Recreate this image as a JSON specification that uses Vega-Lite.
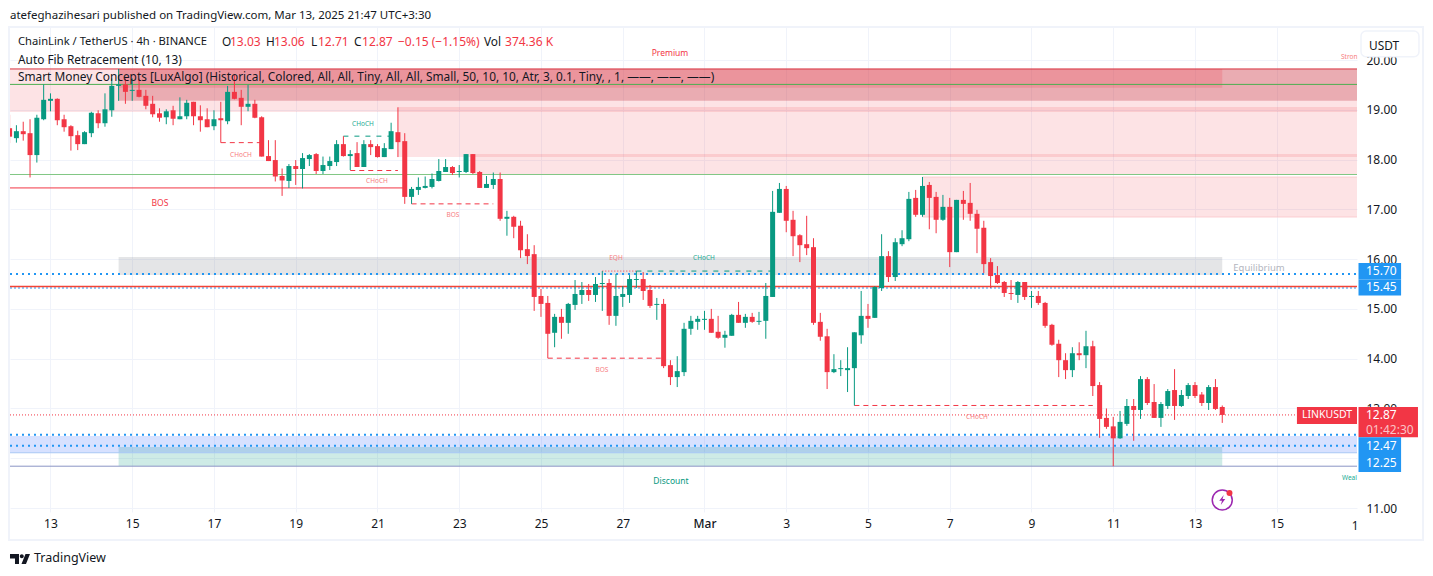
{
"$schema":"https://vega.github.io/schema/vega-lite/v6.json",
"autosize":{"type":"none"},
"padding":{"left":10,"top":27,"right":76,"bottom":64},
"width":1347,"height":485,
"background":"white",
"view":{"stroke":null},
"config":{"font":"Noto Sans","text":{"font":"Noto Sans"}},
"datasets":{
"candles":[
{"t":"2025-02-12T00:00","o":18.63,"h":18.90,"l":18.33,"c":18.46},
{"t":"2025-02-12T04:00","o":18.43,"h":18.69,"l":18.34,"c":18.57},
{"t":"2025-02-12T08:00","o":18.57,"h":18.76,"l":18.38,"c":18.51},
{"t":"2025-02-12T12:00","o":18.53,"h":18.81,"l":17.64,"c":18.09},
{"t":"2025-02-12T16:00","o":18.09,"h":18.90,"l":17.94,"c":18.84},
{"t":"2025-02-12T20:00","o":18.81,"h":19.51,"l":18.79,"c":19.20},
{"t":"2025-02-13T00:00","o":19.18,"h":19.33,"l":18.97,"c":19.22},
{"t":"2025-02-13T04:00","o":19.22,"h":19.23,"l":18.69,"c":18.79},
{"t":"2025-02-13T08:00","o":18.81,"h":18.90,"l":18.56,"c":18.65},
{"t":"2025-02-13T12:00","o":18.67,"h":18.69,"l":18.18,"c":18.47},
{"t":"2025-02-13T16:00","o":18.49,"h":18.58,"l":18.19,"c":18.31},
{"t":"2025-02-13T20:00","o":18.31,"h":18.57,"l":18.31,"c":18.55},
{"t":"2025-02-14T00:00","o":18.53,"h":18.96,"l":18.45,"c":18.94},
{"t":"2025-02-14T04:00","o":18.93,"h":18.99,"l":18.63,"c":18.73},
{"t":"2025-02-14T08:00","o":18.73,"h":19.33,"l":18.66,"c":19.01},
{"t":"2025-02-14T12:00","o":18.99,"h":19.63,"l":18.86,"c":19.48},
{"t":"2025-02-14T16:00","o":19.48,"h":19.82,"l":19.18,"c":19.51},
{"t":"2025-02-14T20:00","o":19.51,"h":19.63,"l":19.12,"c":19.36},
{"t":"2025-02-15T00:00","o":19.38,"h":19.63,"l":19.18,"c":19.40},
{"t":"2025-02-15T04:00","o":19.40,"h":19.63,"l":19.25,"c":19.26},
{"t":"2025-02-15T08:00","o":19.28,"h":19.40,"l":19.01,"c":19.08},
{"t":"2025-02-15T12:00","o":19.12,"h":19.28,"l":18.85,"c":18.91},
{"t":"2025-02-15T16:00","o":18.93,"h":19.03,"l":18.76,"c":18.84},
{"t":"2025-02-15T20:00","o":18.85,"h":19.01,"l":18.71,"c":18.97},
{"t":"2025-02-16T00:00","o":18.99,"h":19.08,"l":18.69,"c":18.82},
{"t":"2025-02-16T04:00","o":18.81,"h":19.25,"l":18.81,"c":18.87},
{"t":"2025-02-16T08:00","o":18.87,"h":19.20,"l":18.81,"c":19.14},
{"t":"2025-02-16T12:00","o":19.16,"h":19.16,"l":18.69,"c":18.87},
{"t":"2025-02-16T16:00","o":18.87,"h":19.09,"l":18.56,"c":18.79},
{"t":"2025-02-16T20:00","o":18.81,"h":19.03,"l":18.65,"c":18.65},
{"t":"2025-02-17T00:00","o":18.67,"h":18.99,"l":18.59,"c":18.81},
{"t":"2025-02-17T04:00","o":18.83,"h":19.16,"l":18.34,"c":18.79},
{"t":"2025-02-17T08:00","o":18.77,"h":19.48,"l":18.71,"c":19.36},
{"t":"2025-02-17T12:00","o":19.36,"h":19.70,"l":19.21,"c":19.22},
{"t":"2025-02-17T16:00","o":19.24,"h":19.40,"l":18.69,"c":19.06},
{"t":"2025-02-17T20:00","o":19.06,"h":19.50,"l":18.97,"c":19.12},
{"t":"2025-02-18T00:00","o":19.12,"h":19.20,"l":18.83,"c":18.84},
{"t":"2025-02-18T04:00","o":18.85,"h":18.87,"l":18.06,"c":18.06},
{"t":"2025-02-18T08:00","o":18.07,"h":18.39,"l":17.97,"c":17.97},
{"t":"2025-02-18T12:00","o":17.99,"h":18.39,"l":17.56,"c":17.66},
{"t":"2025-02-18T16:00","o":17.67,"h":17.82,"l":17.27,"c":17.58},
{"t":"2025-02-18T20:00","o":17.57,"h":17.91,"l":17.43,"c":17.87},
{"t":"2025-02-19T00:00","o":17.87,"h":17.99,"l":17.49,"c":17.81},
{"t":"2025-02-19T04:00","o":17.81,"h":18.13,"l":17.42,"c":18.03},
{"t":"2025-02-19T08:00","o":18.01,"h":18.11,"l":17.87,"c":18.09},
{"t":"2025-02-19T12:00","o":18.11,"h":18.13,"l":17.71,"c":17.77},
{"t":"2025-02-19T16:00","o":17.77,"h":18.06,"l":17.71,"c":17.89},
{"t":"2025-02-19T20:00","o":17.87,"h":18.06,"l":17.79,"c":17.97},
{"t":"2025-02-20T00:00","o":17.95,"h":18.39,"l":17.87,"c":18.31},
{"t":"2025-02-20T04:00","o":18.31,"h":18.47,"l":18.06,"c":18.07},
{"t":"2025-02-20T08:00","o":18.07,"h":18.19,"l":17.79,"c":18.11},
{"t":"2025-02-20T12:00","o":18.13,"h":18.35,"l":17.85,"c":17.85},
{"t":"2025-02-20T16:00","o":17.85,"h":18.39,"l":17.85,"c":18.31},
{"t":"2025-02-20T20:00","o":18.31,"h":18.39,"l":18.09,"c":18.25},
{"t":"2025-02-21T00:00","o":18.27,"h":18.31,"l":18.04,"c":18.05},
{"t":"2025-02-21T04:00","o":18.05,"h":18.33,"l":18.05,"c":18.23},
{"t":"2025-02-21T08:00","o":18.21,"h":18.74,"l":18.21,"c":18.57},
{"t":"2025-02-21T12:00","o":18.55,"h":19.05,"l":18.05,"c":18.35},
{"t":"2025-02-21T16:00","o":18.37,"h":18.53,"l":17.11,"c":17.25},
{"t":"2025-02-21T20:00","o":17.25,"h":17.45,"l":17.11,"c":17.41},
{"t":"2025-02-22T00:00","o":17.39,"h":17.64,"l":17.29,"c":17.45},
{"t":"2025-02-22T04:00","o":17.43,"h":17.66,"l":17.42,"c":17.47},
{"t":"2025-02-22T08:00","o":17.45,"h":17.72,"l":17.42,"c":17.61},
{"t":"2025-02-22T12:00","o":17.57,"h":18.01,"l":17.56,"c":17.77},
{"t":"2025-02-22T16:00","o":17.75,"h":18.01,"l":17.75,"c":17.85},
{"t":"2025-02-22T20:00","o":17.85,"h":17.87,"l":17.69,"c":17.73},
{"t":"2025-02-23T00:00","o":17.75,"h":17.89,"l":17.64,"c":17.77},
{"t":"2025-02-23T04:00","o":17.75,"h":18.11,"l":17.73,"c":18.11},
{"t":"2025-02-23T08:00","o":18.11,"h":18.11,"l":17.71,"c":17.73},
{"t":"2025-02-23T12:00","o":17.75,"h":17.77,"l":17.43,"c":17.43},
{"t":"2025-02-23T16:00","o":17.43,"h":17.67,"l":17.43,"c":17.51},
{"t":"2025-02-23T20:00","o":17.49,"h":17.74,"l":17.41,"c":17.61},
{"t":"2025-02-24T00:00","o":17.61,"h":17.74,"l":16.77,"c":16.81},
{"t":"2025-02-24T04:00","o":16.81,"h":16.97,"l":16.47,"c":16.85},
{"t":"2025-02-24T08:00","o":16.85,"h":16.87,"l":16.42,"c":16.65},
{"t":"2025-02-24T12:00","o":16.67,"h":16.77,"l":16.02,"c":16.18},
{"t":"2025-02-24T16:00","o":16.20,"h":16.50,"l":15.90,"c":16.06},
{"t":"2025-02-24T20:00","o":16.10,"h":16.28,"l":14.96,"c":15.24},
{"t":"2025-02-25T00:00","o":15.26,"h":15.40,"l":14.84,"c":15.10},
{"t":"2025-02-25T04:00","o":15.12,"h":15.26,"l":14.01,"c":14.50},
{"t":"2025-02-25T08:00","o":14.52,"h":14.90,"l":14.23,"c":14.84},
{"t":"2025-02-25T12:00","o":14.84,"h":15.00,"l":14.40,"c":14.72},
{"t":"2025-02-25T16:00","o":14.72,"h":15.12,"l":14.50,"c":15.10},
{"t":"2025-02-25T20:00","o":15.08,"h":15.58,"l":14.98,"c":15.30},
{"t":"2025-02-26T00:00","o":15.28,"h":15.54,"l":15.10,"c":15.38},
{"t":"2025-02-26T04:00","o":15.38,"h":15.50,"l":15.16,"c":15.28},
{"t":"2025-02-26T08:00","o":15.28,"h":15.64,"l":15.14,"c":15.50},
{"t":"2025-02-26T12:00","o":15.50,"h":15.76,"l":14.96,"c":15.52},
{"t":"2025-02-26T16:00","o":15.52,"h":15.60,"l":14.68,"c":14.86},
{"t":"2025-02-26T20:00","o":14.86,"h":15.70,"l":14.66,"c":15.26},
{"t":"2025-02-27T00:00","o":15.24,"h":15.46,"l":15.04,"c":15.30},
{"t":"2025-02-27T04:00","o":15.28,"h":15.68,"l":15.12,"c":15.60},
{"t":"2025-02-27T08:00","o":15.58,"h":15.76,"l":15.42,"c":15.60},
{"t":"2025-02-27T12:00","o":15.60,"h":15.74,"l":15.18,"c":15.36},
{"t":"2025-02-27T16:00","o":15.38,"h":15.48,"l":15.02,"c":15.06},
{"t":"2025-02-27T20:00","o":15.08,"h":15.22,"l":14.78,"c":15.10},
{"t":"2025-02-28T00:00","o":15.10,"h":15.20,"l":13.81,"c":13.85},
{"t":"2025-02-28T04:00","o":13.87,"h":13.97,"l":13.47,"c":13.63},
{"t":"2025-02-28T08:00","o":13.63,"h":14.05,"l":13.43,"c":13.75},
{"t":"2025-02-28T12:00","o":13.73,"h":14.72,"l":13.65,"c":14.60},
{"t":"2025-02-28T16:00","o":14.60,"h":14.86,"l":14.48,"c":14.76},
{"t":"2025-02-28T20:00","o":14.74,"h":14.86,"l":14.58,"c":14.80},
{"t":"2025-03-01T00:00","o":14.78,"h":14.96,"l":14.58,"c":14.80},
{"t":"2025-03-01T04:00","o":14.80,"h":15.00,"l":14.52,"c":14.52},
{"t":"2025-03-01T08:00","o":14.54,"h":14.86,"l":14.40,"c":14.42},
{"t":"2025-03-01T12:00","o":14.42,"h":14.56,"l":14.22,"c":14.48},
{"t":"2025-03-01T16:00","o":14.46,"h":14.90,"l":14.46,"c":14.88},
{"t":"2025-03-01T20:00","o":14.88,"h":15.14,"l":14.72,"c":14.72},
{"t":"2025-03-02T00:00","o":14.72,"h":14.90,"l":14.62,"c":14.84},
{"t":"2025-03-02T04:00","o":14.84,"h":14.92,"l":14.72,"c":14.74},
{"t":"2025-03-02T08:00","o":14.74,"h":14.94,"l":14.68,"c":14.76},
{"t":"2025-03-02T12:00","o":14.76,"h":15.52,"l":14.40,"c":15.26},
{"t":"2025-03-02T16:00","o":15.24,"h":17.37,"l":15.24,"c":16.95},
{"t":"2025-03-02T20:00","o":16.93,"h":17.53,"l":16.93,"c":17.41},
{"t":"2025-03-03T00:00","o":17.41,"h":17.47,"l":16.54,"c":16.77},
{"t":"2025-03-03T04:00","o":16.79,"h":16.97,"l":16.06,"c":16.46},
{"t":"2025-03-03T08:00","o":16.48,"h":16.50,"l":15.94,"c":16.28},
{"t":"2025-03-03T12:00","o":16.30,"h":16.87,"l":16.08,"c":16.22},
{"t":"2025-03-03T16:00","o":16.24,"h":16.42,"l":14.68,"c":14.72},
{"t":"2025-03-03T20:00","o":14.74,"h":14.92,"l":14.36,"c":14.44},
{"t":"2025-03-04T00:00","o":14.45,"h":14.60,"l":13.39,"c":13.73},
{"t":"2025-03-04T04:00","o":13.73,"h":14.09,"l":13.71,"c":13.79},
{"t":"2025-03-04T08:00","o":13.79,"h":13.97,"l":13.65,"c":13.81},
{"t":"2025-03-04T12:00","o":13.77,"h":14.23,"l":13.33,"c":13.81},
{"t":"2025-03-04T16:00","o":13.81,"h":14.53,"l":13.06,"c":14.53},
{"t":"2025-03-04T20:00","o":14.47,"h":15.36,"l":14.30,"c":14.86},
{"t":"2025-03-05T00:00","o":14.86,"h":15.10,"l":14.62,"c":14.80},
{"t":"2025-03-05T04:00","o":14.82,"h":15.46,"l":14.82,"c":15.44},
{"t":"2025-03-05T08:00","o":15.42,"h":16.50,"l":15.36,"c":16.06},
{"t":"2025-03-05T12:00","o":16.06,"h":16.16,"l":15.54,"c":15.64},
{"t":"2025-03-05T16:00","o":15.64,"h":16.42,"l":15.56,"c":16.34},
{"t":"2025-03-05T20:00","o":16.30,"h":16.58,"l":16.26,"c":16.42},
{"t":"2025-03-06T00:00","o":16.40,"h":17.35,"l":16.36,"c":17.21},
{"t":"2025-03-06T04:00","o":17.23,"h":17.39,"l":16.85,"c":16.89},
{"t":"2025-03-06T08:00","o":16.89,"h":17.65,"l":16.85,"c":17.47},
{"t":"2025-03-06T12:00","o":17.49,"h":17.55,"l":16.60,"c":17.23},
{"t":"2025-03-06T16:00","o":17.25,"h":17.35,"l":16.52,"c":16.79},
{"t":"2025-03-06T20:00","o":16.79,"h":17.29,"l":16.77,"c":17.05},
{"t":"2025-03-07T00:00","o":17.05,"h":17.23,"l":15.84,"c":16.14},
{"t":"2025-03-07T04:00","o":16.14,"h":17.19,"l":16.14,"c":17.19},
{"t":"2025-03-07T08:00","o":17.19,"h":17.37,"l":16.79,"c":17.11},
{"t":"2025-03-07T12:00","o":17.13,"h":17.53,"l":16.77,"c":16.91},
{"t":"2025-03-07T16:00","o":16.91,"h":16.99,"l":16.12,"c":16.61},
{"t":"2025-03-07T20:00","o":16.63,"h":16.77,"l":15.72,"c":15.90},
{"t":"2025-03-08T00:00","o":15.94,"h":16.02,"l":15.42,"c":15.66},
{"t":"2025-03-08T04:00","o":15.68,"h":15.86,"l":15.50,"c":15.52},
{"t":"2025-03-08T08:00","o":15.54,"h":15.56,"l":15.24,"c":15.32},
{"t":"2025-03-08T12:00","o":15.32,"h":15.58,"l":15.18,"c":15.30},
{"t":"2025-03-08T16:00","o":15.28,"h":15.56,"l":15.12,"c":15.54},
{"t":"2025-03-08T20:00","o":15.54,"h":15.54,"l":15.18,"c":15.24},
{"t":"2025-03-09T00:00","o":15.24,"h":15.36,"l":15.02,"c":15.26},
{"t":"2025-03-09T04:00","o":15.26,"h":15.36,"l":15.08,"c":15.12},
{"t":"2025-03-09T08:00","o":15.12,"h":15.14,"l":14.62,"c":14.66},
{"t":"2025-03-09T12:00","o":14.68,"h":14.70,"l":14.26,"c":14.28},
{"t":"2025-03-09T16:00","o":14.30,"h":14.38,"l":13.63,"c":13.97},
{"t":"2025-03-09T20:00","o":13.97,"h":14.11,"l":13.59,"c":13.77},
{"t":"2025-03-10T00:00","o":13.77,"h":14.23,"l":13.63,"c":14.11},
{"t":"2025-03-10T04:00","o":14.11,"h":14.33,"l":13.97,"c":14.07},
{"t":"2025-03-10T08:00","o":14.07,"h":14.56,"l":13.81,"c":14.25},
{"t":"2025-03-10T12:00","o":14.25,"h":14.36,"l":13.25,"c":13.45},
{"t":"2025-03-10T16:00","o":13.47,"h":13.53,"l":12.41,"c":12.79},
{"t":"2025-03-10T20:00","o":12.81,"h":13.00,"l":12.59,"c":12.63},
{"t":"2025-03-11T00:00","o":12.64,"h":12.83,"l":11.84,"c":12.40},
{"t":"2025-03-11T04:00","o":12.40,"h":12.95,"l":12.39,"c":12.73},
{"t":"2025-03-11T08:00","o":12.69,"h":13.19,"l":12.65,"c":13.05},
{"t":"2025-03-11T12:00","o":13.05,"h":13.19,"l":12.35,"c":12.97},
{"t":"2025-03-11T16:00","o":12.97,"h":13.65,"l":12.79,"c":13.59},
{"t":"2025-03-11T20:00","o":13.59,"h":13.63,"l":13.07,"c":13.11},
{"t":"2025-03-12T00:00","o":13.13,"h":13.49,"l":12.81,"c":12.81},
{"t":"2025-03-12T04:00","o":12.81,"h":13.13,"l":12.63,"c":13.09},
{"t":"2025-03-12T08:00","o":13.05,"h":13.39,"l":12.99,"c":13.35},
{"t":"2025-03-12T12:00","o":13.37,"h":13.79,"l":12.77,"c":13.05},
{"t":"2025-03-12T16:00","o":13.05,"h":13.37,"l":13.03,"c":13.27},
{"t":"2025-03-12T20:00","o":13.25,"h":13.51,"l":13.19,"c":13.47},
{"t":"2025-03-13T00:00","o":13.47,"h":13.53,"l":13.21,"c":13.25},
{"t":"2025-03-13T04:00","o":13.28,"h":13.33,"l":13.05,"c":13.11},
{"t":"2025-03-13T08:00","o":13.11,"h":13.47,"l":12.97,"c":13.43},
{"t":"2025-03-13T12:00","o":13.43,"h":13.59,"l":12.97,"c":12.99},
{"t":"2025-03-13T16:00","o":13.03,"h":13.06,"l":12.71,"c":12.87}
],
"zones":[
{"x0":"2025-02-12T00:14","x1":"2025-03-16T23:07","p0":19.82,"p1":18.955,"kind":"pink"},
{"x0":"2025-02-14T16:00","x1":"2025-03-16T23:07","p0":19.82,"p1":19.182,"kind":"mid"},
{"x0":"2025-02-14T16:00","x1":"2025-03-13T16:00","p0":19.82,"p1":19.443,"kind":"dark"},
{"x0":"2025-02-21T12:00","x1":"2025-03-16T23:07","p0":19.056,"p1":18.051,"kind":"pink"},
{"x0":"2025-02-23T08:00","x1":"2025-03-16T23:07","p0":18.112,"p1":17.70,"kind":"pink"},
{"x0":"2025-03-06T08:00","x1":"2025-03-16T23:07","p0":17.649,"p1":16.846,"kind":"pink"},
{"x0":"2025-02-14T16:00","x1":"2025-03-13T16:00","p0":16.042,"p1":15.681,"kind":"equilibrium"},
{"x0":"2025-02-14T16:00","x1":"2025-03-13T16:00","p0":12.227,"p1":11.844,"kind":"discount"},
{"x0":"2025-02-12T00:14","x1":"2025-03-16T23:07","p0":12.449,"p1":12.11,"kind":"blue"}
],
"lines":[
{"x0":"2025-02-12T00:14","x1":"2025-03-16T23:07","p":19.82,"kind":"top"},
{"x0":"2025-02-12T00:14","x1":"2025-03-16T23:07","p":19.51,"kind":"fib"},
{"x0":"2025-02-12T00:14","x1":"2025-03-16T23:07","p":17.70,"kind":"fibLight"},
{"x0":"2025-03-06T08:00","x1":"2025-03-16T23:07","p":17.649,"kind":"pinkEdge"},
{"x0":"2025-03-06T08:00","x1":"2025-03-16T23:07","p":16.846,"kind":"pinkEdge"},
{"x0":"2025-02-12T00:14","x1":"2025-03-16T23:07","p":12.11,"kind":"blueEdge"},
{"x0":"2025-02-12T00:14","x1":"2025-02-21T16:00","p":17.43,"kind":"bos"},
{"x0":"2025-02-17T04:00","x1":"2025-02-18T04:00","p":18.34,"kind":"redDash"},
{"x0":"2025-02-20T04:00","x1":"2025-02-21T08:00","p":18.47,"kind":"greenDash"},
{"x0":"2025-02-20T08:00","x1":"2025-02-21T12:00","p":17.78,"kind":"redDash"},
{"x0":"2025-02-21T20:00","x1":"2025-02-23T20:00","p":17.11,"kind":"redDash"},
{"x0":"2025-02-25T04:00","x1":"2025-02-28T00:00","p":14.01,"kind":"redDash"},
{"x0":"2025-02-26T12:00","x1":"2025-02-27T08:00","p":15.76,"kind":"eqh"},
{"x0":"2025-02-27T08:00","x1":"2025-03-02T16:00","p":15.76,"kind":"greenDash"},
{"x0":"2025-03-04T16:00","x1":"2025-03-10T12:00","p":13.06,"kind":"redDash"},
{"x0":"2025-02-12T00:14","x1":"2025-03-16T23:07","p":12.87,"kind":"last"},
{"x0":"2025-02-12T00:14","x1":"2025-03-16T23:07","p":15.70,"kind":"dots"},
{"x0":"2025-02-12T00:14","x1":"2025-03-16T23:07","p":12.47,"kind":"dots"},
{"x0":"2025-02-12T00:14","x1":"2025-03-16T23:07","p":12.25,"kind":"dots"},
{"x0":"2025-02-12T00:14","x1":"2025-03-16T23:07","p":15.42,"kind":"thinDots"},
{"x0":"2025-02-12T00:14","x1":"2025-03-16T23:07","p":15.45,"kind":"level"},
{"x0":"2025-02-12T00:14","x1":"2025-03-16T23:07","p":11.84,"kind":"weak"}
],
"boxes":[
{"x0":"2025-03-15T11:51","x1":"2025-03-16T23:07","p0":13.03,"p1":12.687,"kind":"red"},
{"x0":"2025-03-17T00:00","x1":"2025-03-18T10:55","p0":13.03,"p1":12.42,"kind":"red"},
{"x0":"2025-03-17T00:00","x1":"2025-03-18T01:00","p0":15.922,"p1":15.59,"kind":"tag"},
{"x0":"2025-03-17T00:00","x1":"2025-03-18T01:00","p0":15.59,"p1":15.27,"kind":"tag"},
{"x0":"2025-03-17T00:00","x1":"2025-03-18T01:00","p0":12.42,"p1":12.065,"kind":"tag"},
{"x0":"2025-03-17T00:00","x1":"2025-03-18T01:00","p0":12.065,"p1":11.723,"kind":"tag"}
],
"textLeft":[
{"t":"2025-02-12T00:14","p":20.884,"label":"atefeghazihesari published on TradingView.com, Mar 13, 2025 21:47 UTC+3:30","kind":"byline"},
{"t":"2025-02-12T04:56","p":20.361,"label":"ChainLink / TetherUS · 4h · BINANCE","kind":"symbol"},
{"t":"2025-02-17T04:42","p":20.361,"label":"O","kind":"ink"},
{"t":"2025-02-17T09:24","p":20.361,"label":"13.03","kind":"red"},
{"t":"2025-02-18T06:31","p":20.361,"label":"H","kind":"ink"},
{"t":"2025-02-18T11:13","p":20.361,"label":"13.06","kind":"red"},
{"t":"2025-02-19T08:55","p":20.361,"label":"L","kind":"ink"},
{"t":"2025-02-19T13:02","p":20.361,"label":"12.71","kind":"red"},
{"t":"2025-02-20T10:13","p":20.361,"label":"C","kind":"ink"},
{"t":"2025-02-20T14:55","p":20.361,"label":"12.87","kind":"red"},
{"t":"2025-02-21T12:02","p":20.361,"label":"−0.15 (−1.15%)","kind":"red"},
{"t":"2025-02-23T14:30","p":20.361,"label":"Vol","kind":"ink"},
{"t":"2025-02-24T02:53","p":20.361,"label":"374.36 K","kind":"red"},
{"t":"2025-02-12T04:56","p":20.00,"label":"Auto Fib Retracement (10, 13)","kind":"ink"},
{"t":"2025-02-12T04:56","p":19.66,"label":"Smart Money Concepts [LuxAlgo] (Historical, Colored, All, All, Tiny, All, All, Small, 50, 10, 10, Atr, 3, 0.1, Tiny, , 1, ——, ——, ——)","kind":"ink"},
{"t":"2025-03-16T13:44","p":20.06,"label":"Stron","kind":"redSmall"},
{"t":"2025-03-16T14:20","p":11.602,"label":"Weal","kind":"greenSmall"},
{"t":"2025-03-17T04:24","p":15.76,"label":"15.70","kind":"white"},
{"t":"2025-03-17T04:24","p":15.43,"label":"15.45","kind":"white"},
{"t":"2025-03-17T04:24","p":12.87,"label":"12.87","kind":"white"},
{"t":"2025-03-17T04:24","p":12.57,"label":"01:42:30","kind":"pale"},
{"t":"2025-03-17T04:24","p":12.24,"label":"12.47","kind":"white"},
{"t":"2025-03-17T04:24","p":11.90,"label":"12.25","kind":"white"}
],
"textCenter":[
{"t":"2025-02-15T16:16","p":17.127,"label":"BOS","kind":"redMid"},
{"t":"2025-02-17T15:51","p":18.09,"label":"CHoCH","kind":"redSmall"},
{"t":"2025-02-20T15:30","p":18.714,"label":"CHoCH","kind":"greenSmall"},
{"t":"2025-02-20T23:40","p":17.569,"label":"CHoCH","kind":"redSmall"},
{"t":"2025-02-22T20:19","p":16.886,"label":"BOS","kind":"redSmall"},
{"t":"2025-02-26T11:48","p":13.77,"label":"BOS","kind":"redSmall"},
{"t":"2025-02-26T20:01","p":16.02,"label":"EQH","kind":"redSmall"},
{"t":"2025-02-28T23:43","p":16.02,"label":"CHoCH","kind":"greenSmall"},
{"t":"2025-03-07T15:58","p":12.827,"label":"CHoCH","kind":"redSmall"},
{"t":"2025-02-28T03:45","p":20.14,"label":"Premium","kind":"redMid"},
{"t":"2025-02-28T04:20","p":11.542,"label":"Discount","kind":"greenMid"},
{"t":"2025-03-14T13:34","p":15.821,"label":"Equilibrium","kind":"grey"},
{"t":"2025-03-16T05:31","p":12.87,"label":"LINKUSDT","kind":"tagName"},
{"t":"2025-03-17T14:58","p":20.286,"label":"USDT","kind":"ink"},
{"t":"2025-03-16T21:58","p":10.638,"label":"1","kind":"ink"}
]
},
"layer":[
{"data":{"values":[{"x0":"2025-02-11T23:39","x1":"2025-03-18T13:51","p0":20.663,"p1":10.357}]},
 "mark":{"type":"rect","fillOpacity":0,"stroke":"#f0f3fa","strokeWidth":2},
 "encoding":{
  "x":{"field":"x0","type":"temporal","title":null,
   "scale":{"nice":false,"padding":0,"domain":[{"year":2025,"month":2,"date":12,"hours":0,"minutes":14},{"year":2025,"month":3,"date":16,"hours":23,"minutes":7}]},
   "axis":{"title":null,"domain":false,"ticks":false,"grid":true,"gridColor":"#f0f3fa","gridWidth":1,"labelColor":"#131722","labelFontSize":12,"labelFont":"Noto Sans","labelPadding":6,"labelAngle":0,"labelFlush":false,"labelOverlap":false,
    "labelFontWeight":{"condition":{"test":"date(datum.value)==1","value":500},"value":"normal"},
    "labelExpr":"date(datum.value)==1?'Mar':''+date(datum.value)",
    "values":[{"year":2025,"month":2,"date":13},{"year":2025,"month":2,"date":15},{"year":2025,"month":2,"date":17},{"year":2025,"month":2,"date":19},{"year":2025,"month":2,"date":21},{"year":2025,"month":2,"date":23},{"year":2025,"month":2,"date":25},{"year":2025,"month":2,"date":27},{"year":2025,"month":3,"date":1},{"year":2025,"month":3,"date":3},{"year":2025,"month":3,"date":5},{"year":2025,"month":3,"date":7},{"year":2025,"month":3,"date":9},{"year":2025,"month":3,"date":11},{"year":2025,"month":3,"date":13},{"year":2025,"month":3,"date":15}]}},
  "x2":{"field":"x1"},
  "y":{"field":"p0","type":"quantitative","title":null,
   "scale":{"domain":[10.92,20.663],"nice":false,"zero":false},
   "axis":{"orient":"right","title":null,"domain":false,"ticks":false,"grid":true,"gridColor":"#f0f3fa","gridWidth":1,"labelColor":"#131722","labelFontSize":12,"labelFont":"Noto Sans","labelPadding":9,"format":".2f","values":[11,12,13,14,15,16,17,18,19,20]}},
  "y2":{"field":"p1"}}},
{"data":{"name":"zones"},
 "mark":{"type":"rect"},
 "encoding":{
  "x":{"field":"x0","type":"temporal"},"x2":{"field":"x1"},
  "y":{"field":"p0","type":"quantitative"},"y2":{"field":"p1"},
  "fill":{"field":"kind","type":"nominal","legend":null,"scale":{"type":"ordinal","domain":["pink","mid","dark","equilibrium","discount","blue"],"range":["#f23645","#c0303c","#f23645","#787b86","#089981","#2962ff"]}},
  "opacity":{"field":"kind","type":"nominal","legend":null,"scale":{"type":"ordinal","domain":["pink","mid","dark","equilibrium","discount","blue"],"range":[0.14,0.3,0.2,0.2,0.2,0.19]}}}},
{"data":{"name":"lines"},
 "mark":{"type":"rule"},
 "encoding":{
  "x":{"field":"x0","type":"temporal"},"x2":{"field":"x1"},
  "y":{"field":"p","type":"quantitative"},
  "stroke":{"field":"kind","type":"nominal","legend":null,"scale":{"type":"ordinal","domain":["top","fib","fibLight","pinkEdge","blueEdge","bos","redDash","greenDash","eqh","last","dots","thinDots","level","weak"],"range":["#d8323f","#4caf50","#81c784","#fbc9cd","#a9c8f5","#f23645","#f23645","#089981","#f23645","#f23645","#2196f3","#2196f3","#f44336","#8a94c4"]}},
  "strokeWidth":{"field":"kind","type":"nominal","legend":null,"scale":{"type":"ordinal","domain":["top","fib","fibLight","pinkEdge","blueEdge","bos","redDash","greenDash","eqh","last","dots","thinDots","level","weak"],"range":[1,1,1,1,1,1,1,1,1,1,2,1,1.5,1]}},
  "strokeDash":{"field":"kind","type":"nominal","legend":null,"scale":{"type":"ordinal","domain":["top","fib","fibLight","pinkEdge","blueEdge","bos","redDash","greenDash","eqh","last","dots","thinDots","level","weak"],"range":[[1,0],[1,0],[1,0],[1,0],[1,0],[1,0],[5,4],[5,6],[1,2],[1,2],[2,4],[2,2],[1,0],[1,0]]}}}},
{"data":{"name":"candles"},
 "mark":{"type":"rule","strokeWidth":1,"clip":true},
 "encoding":{
  "x":{"field":"t","type":"temporal"},
  "y":{"field":"l","type":"quantitative"},"y2":{"field":"h"},
  "color":{"condition":{"test":"datum.c>=datum.o","value":"#089981"},"value":"#f23645"}}},
{"data":{"name":"candles"},
 "mark":{"type":"bar","size":5,"clip":true},
 "encoding":{
  "x":{"field":"t","type":"temporal"},
  "y":{"field":"o","type":"quantitative"},"y2":{"field":"c"},
  "color":{"condition":{"test":"datum.c>=datum.o","value":"#089981"},"value":"#f23645"}}},
{"data":{"values":[{"x0":"2025-03-17T01:28","x1":"2025-03-18T11:30","p0":20.582,"p1":20.066}]},
 "mark":{"type":"rect","fill":"white","stroke":"#f0f3fa","strokeWidth":1.5,"cornerRadius":5},
 "encoding":{"x":{"field":"x0","type":"temporal"},"x2":{"field":"x1"},"y":{"field":"p0","type":"quantitative"},"y2":{"field":"p1"}}},
{"data":{"name":"boxes"},
 "mark":{"type":"rect"},
 "encoding":{
  "x":{"field":"x0","type":"temporal"},"x2":{"field":"x1"},
  "y":{"field":"p0","type":"quantitative"},"y2":{"field":"p1"},
  "color":{"condition":{"test":"datum.kind=='red'","value":"#f23645"},"value":"#2196f3"}}},
{"data":{"name":"textLeft"},
 "mark":{"type":"text","align":"left","baseline":"middle"},
 "encoding":{
  "x":{"field":"t","type":"temporal"},
  "y":{"field":"p","type":"quantitative"},
  "text":{"field":"label"},
  "color":{"field":"kind","type":"nominal","legend":null,"scale":{"type":"ordinal","domain":["ink","byline","symbol","red","redSmall","greenSmall","redMid","greenMid","grey","white","tagName","pale"],"range":["#131722","#131722","#131722","#f23645","#f77c80","#22ab94","#f23645","#089981","#b2b5be","#ffffff","#ffffff","#fbc3c7"]}},
  "size":{"field":"kind","type":"nominal","legend":null,"scale":{"type":"ordinal","domain":["ink","byline","symbol","red","redSmall","greenSmall","redMid","greenMid","grey","white","tagName","pale"],"range":[11.85,11.5,11.2,12,6.5,6.5,8.5,8.5,9.5,12,10.5,12]}}}},
{"data":{"name":"textCenter"},
 "mark":{"type":"text","align":"center","baseline":"middle"},
 "encoding":{
  "x":{"field":"t","type":"temporal"},
  "y":{"field":"p","type":"quantitative"},
  "text":{"field":"label"},
  "color":{"field":"kind","type":"nominal","legend":null,"scale":{"type":"ordinal","domain":["ink","byline","symbol","red","redSmall","greenSmall","redMid","greenMid","grey","white","tagName","pale"],"range":["#131722","#131722","#131722","#f23645","#f77c80","#22ab94","#f23645","#089981","#b2b5be","#ffffff","#ffffff","#fbc3c7"]}},
  "size":{"field":"kind","type":"nominal","legend":null,"scale":{"type":"ordinal","domain":["ink","byline","symbol","red","redSmall","greenSmall","redMid","greenMid","grey","white","tagName","pale"],"range":[11.85,11.5,11.2,12,6.5,6.5,8.5,8.5,9.5,12,10.5,12]}}}},
{"data":{"values":[{"t":"2025-02-12T14:20","p":9.996,"label":"TradingView"}]},
 "mark":{"type":"text","align":"left","baseline":"middle","fontSize":12.5,"color":"#131722"},
 "encoding":{"x":{"field":"t","type":"temporal"},"y":{"field":"p","type":"quantitative"},"text":{"field":"label"}}},
{"data":{"values":[{"t":"2025-02-12T06:06","p":9.976}]},
 "mark":{"type":"point","filled":true,"opacity":1,"color":"#131722","size":400,"shape":"M-1,-0.5 H-0.1 V0.5 H-0.5 V-0.05 H-1 Z M0.15,0.5 L0.55,-0.5 H1 L0.6,0.5 Z M0.38,-0.28 A0.2,0.2 0 1 1 -0.02,-0.28 A0.2,0.2 0 1 1 0.38,-0.28 Z"},
 "encoding":{"x":{"field":"t","type":"temporal"},"y":{"field":"p","type":"quantitative"}}},
{"data":{"values":[{"t":"2025-03-13T16:00","p":11.16}]},
 "mark":{"type":"point","filled":false,"opacity":1,"color":"#9c27b0","strokeWidth":1.5,"size":400,"shape":"circle"},
 "encoding":{"x":{"field":"t","type":"temporal"},"y":{"field":"p","type":"quantitative"}}},
{"data":{"values":[{"t":"2025-03-13T16:00","p":11.16}]},
 "mark":{"type":"point","filled":true,"opacity":1,"color":"#9c27b0","size":100,"shape":"M0.3,-1 L-0.6,0.15 L-0.05,0.15 L-0.3,1 L0.6,-0.2 L0.05,-0.2 Z"},
 "encoding":{"x":{"field":"t","type":"temporal"},"y":{"field":"p","type":"quantitative"}}},
{"data":{"values":[{"t":"2025-03-13T20:15","p":11.30}]},
 "mark":{"type":"point","filled":true,"opacity":1,"color":"#f23645","size":36,"shape":"circle"},
 "encoding":{"x":{"field":"t","type":"temporal"},"y":{"field":"p","type":"quantitative"}}}
]
}
